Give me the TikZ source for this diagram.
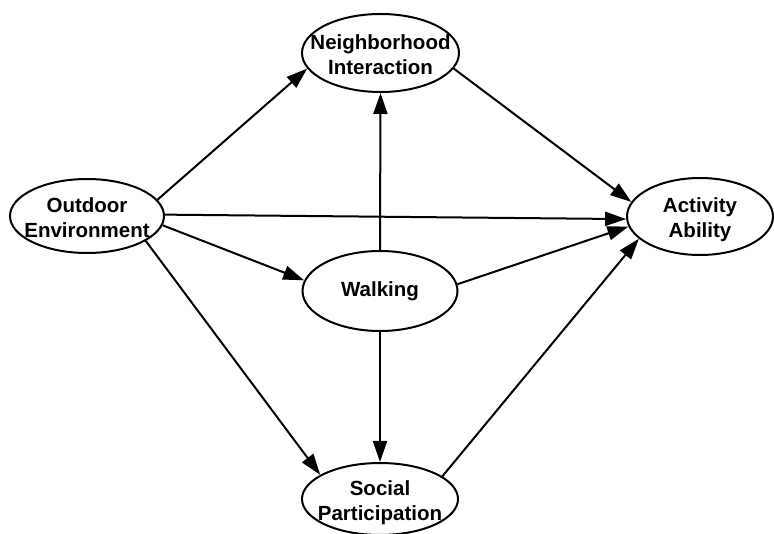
\documentclass[tikz,border=0pt]{standalone}
\usepackage{fontspec}
\setmainfont{Liberation Sans}
\usetikzlibrary{shapes.geometric,arrows.meta}
\newcommand\twoline[2]{\makebox[0pt]{\raisebox{-9pt}[0pt][0pt]{\begin{tabular}{@{}c@{}}#1\\#2\end{tabular}}}}
\begin{document}
\begin{tikzpicture}[x=1pt,y=-1pt,
  ell/.style={draw, ellipse, line width=2pt, inner sep=0pt,
    font=\fontsize{20.5}{25}\selectfont\bfseries},
  arr/.style={line width=2pt, -{Triangle[length=21pt,width=14pt]}}]
\useasboundingbox (0,0) rectangle (774,534);
\node[ell, minimum width=154pt, minimum height=74pt] (o) at (87,216) {\twoline{Outdoor}{Environment}};
\node[ell, minimum width=157pt, minimum height=78pt] (n) at (380.5,53) {\twoline{Neighborhood}{Interaction}};
\node[ell, minimum width=146pt, minimum height=77pt] (a) at (700,216.5) {\twoline{Activity}{Ability}};
\node[ell, minimum width=155pt, minimum height=80pt] (w) at (380,291) {\makebox[0pt]{Walking}};
\node[ell, minimum width=156pt, minimum height=72pt] (s) at (380,499) {\twoline{Social}{Participation}};
\draw[arr] (o.13) -- (n.192);
\draw[arr] (o.1) -- (a.182);
\draw[arr] (o.-7) -- (w.172);
\draw[arr] (o.-23) -- (s.158);
\draw[arr] (w.90) -- (n.270);
\draw[arr] (w.5) -- (a.188);
\draw[arr] (w.270) -- (s.90);
\draw[arr] (n.-12) -- (a.168);
\draw[arr] (s.20) -- (a.200);
\end{tikzpicture}
\end{document}
